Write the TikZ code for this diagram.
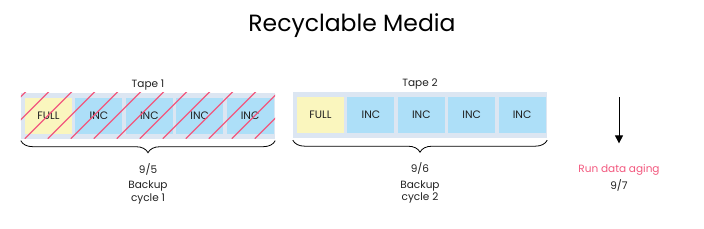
\documentclass[tikz,border=0pt]{standalone}
\usepackage{fontspec}
\setmainfont{Poppins}
\usetikzlibrary{arrows.meta,positioning,calc,decorations.pathreplacing}
\definecolor{FondoCinta}{HTML}{DCE6F2}
\definecolor{Completa}{HTML}{FAF6BE}
\definecolor{Incremental}{HTML}{ADDFF8}
\definecolor{Rosa}{HTML}{F2587E}
\definecolor{Texto}{HTML}{202020}

\begin{document}
\begin{tikzpicture}[x=1pt,y=1pt,node distance=3pt,
        cinta/.style={fill=FondoCinta,minimum width=254pt,minimum height=46pt,inner sep=0pt},
        celda/.style={minimum width=47pt,minimum height=36pt,inner sep=0pt,font=\fontsize{10.8}{12}\selectfont,text=Texto},
        full/.style={celda,fill=Completa},
        inc/.style={celda,fill=Incremental},
        etiqueta/.style={font=\fontsize{10.5}{12.5}\selectfont,align=center,text=Texto,inner sep=1pt},
        llave/.style={decorate,decoration={brace,mirror,amplitude=12pt},line width=.8pt},
        rayado/.style={draw=Rosa,line width=1.1pt},
        flecha/.style={-{Triangle[length=8pt,width=8pt]},draw=black,line width=.8pt}]
        \useasboundingbox (0,0) rectangle (704,-228);
        \node[font=\fontsize{23.5}{27}\selectfont] (titulo) at (352,-26) {Recyclable Media};
        % cinta 1
        \node[cinta] (cinta1) at (148,-115.5) {};
        \node[full,right=4pt of cinta1.west] (t1c1) {FULL};
        \node[inc,right=of t1c1] (t1c2) {INC};
        \node[inc,right=of t1c2] (t1c3) {INC};
        \node[inc,right=of t1c3] (t1c4) {INC};
        \node[inc,right=of t1c4] (t1c5) {INC};
        \begin{scope}
          \clip (cinta1.south west) rectangle (cinta1.north east);
          \foreach \i in {0,...,13}
            \draw[rayado] ($(cinta1.south west)+(\i*23-42,0)$) -- ++(50,50);
        \end{scope}
        \node[etiqueta,above=1pt of cinta1] (tape1) {Tape 1};
        % cinta 2
        \node[cinta] (cinta2) at (420,-115) {};
        \node[full,right=4pt of cinta2.west] (t2c1) {FULL};
        \node[inc,right=of t2c1] (t2c2) {INC};
        \node[inc,right=of t2c2] (t2c3) {INC};
        \node[inc,right=of t2c3] (t2c4) {INC};
        \node[inc,right=of t2c4] (t2c5) {INC};
        \node[etiqueta,above=1pt of cinta2] (tape2) {Tape 2};
        % llaves y ciclos
        \draw[llave] ([yshift=-2pt]cinta1.south west) -- ([yshift=-2pt]cinta1.south east) coordinate[midway,yshift=-12pt] (punta1);
        \draw[llave] ([yshift=-2pt]cinta2.south west) -- ([yshift=-2pt]cinta2.south east) coordinate[midway,yshift=-12pt] (punta2);
        \node[etiqueta,below=9.5pt of punta1] (fecha1) {9/5};
        \node[etiqueta,below=3.5pt of fecha1] (ciclo1) {Backup\\cycle 1};
        \node[etiqueta,below=9.5pt of punta2] (fecha2) {9/6};
        \node[etiqueta,below=3.5pt of fecha2] (ciclo2) {Backup\\cycle 2};
        % envejecimiento
        \node[etiqueta,text=Rosa] (aging) at (619,-170) {Run data aging};
        \node[etiqueta,below=2pt of aging] (fecha3) {9/7};
        \coordinate (inicio) at (619,-97);
        \draw[flecha] (inicio) -- ([yshift=20pt]aging.north);
      \end{tikzpicture}
\end{document}
